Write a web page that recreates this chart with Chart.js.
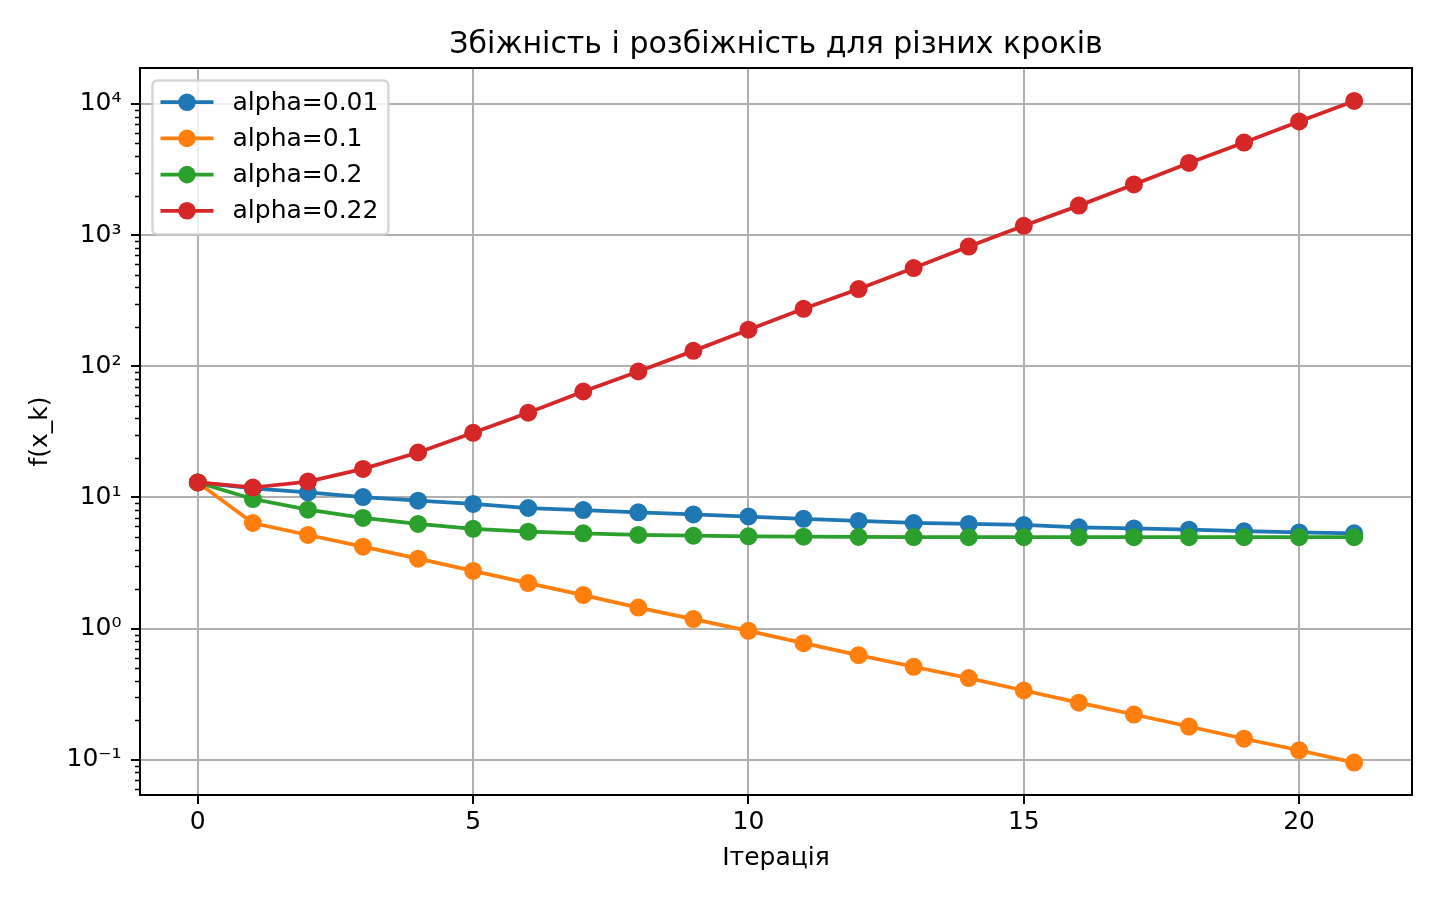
<!DOCTYPE html>
<html lang="uk">
<head>
<meta charset="utf-8">
<title>Збіжність і розбіжність для різних кроків</title>
<script src="https://cdn.jsdelivr.net/npm/chart.js@4.4.1/dist/chart.umd.min.js"></script>
<style>
  html, body { margin: 0; padding: 0; background: #ffffff; }
  #chart { display: block; }
</style>
</head>
<body>
<canvas id="chart" width="1440" height="900"></canvas>
<script>
// f(x_k) per iteration for each step size
const iterations = [0, 1, 2, 3, 4, 5, 6, 7, 8, 9, 10, 11, 12, 13, 14, 15, 16, 17, 18, 19, 20, 21];
const seriesLabels = ['alpha=0.01', 'alpha=0.1', 'alpha=0.2', 'alpha=0.22'];
const seriesColors = ['#1f77b4', '#ff7f0e', '#2ca02c', '#d62728'];

const alpha001 = [13.0, 11.7, 10.9, 10.05, 9.44, 8.91, 8.30, 8.01, 7.69, 7.41, 7.15, 6.87, 6.62, 6.38, 6.27, 6.16, 5.92, 5.80, 5.67, 5.52, 5.41, 5.32];
const alpha01 = [13.0, 6.38, 5.17, 4.21, 3.41, 2.75, 2.22, 1.80, 1.445, 1.18, 0.96, 0.774, 0.627, 0.511, 0.419, 0.337, 0.272, 0.221, 0.179, 0.1445, 0.118, 0.095];
const alpha02 = [13.0, 9.72, 8.06, 6.97, 6.27, 5.76, 5.48, 5.32, 5.17, 5.10, 5.05, 5.02, 5.00, 4.98, 4.97, 4.97, 4.97, 4.97, 4.97, 4.97, 4.97, 4.97];
const alpha022 = [13.0, 11.9, 13.2, 16.5, 22.0, 31.1, 44.2, 64.2, 91.2, 131, 190, 274, 388, 561, 817, 1178, 1678, 2432, 3548, 5080, 7362, 10550];

const xTickValues = [0, 5, 10, 15, 20];
const yTickValues = [0.1, 1, 10, 100, 1000, 10000];
const yTickLabels = ['10⁻¹', '10⁰', '10¹', '10²', '10³', '10⁴'];
const xLimits = [-1.05, 22.05];
const yLimits = [0.0538, 18800];

const allSeries = [alpha001, alpha01, alpha02, alpha022];

// minor log ticks 2..9 x 10^n inside the y range
const yMinorTicks = [];
[0.01, 0.1, 1, 10, 100, 1000, 10000].forEach(d => {
  for (let m = 2; m <= 9; m++) {
    const v = Number((d * m).toPrecision(6));
    if (v >= yLimits[0] && v <= yLimits[1]) yMinorTicks.push(v);
  }
});
const yAllTicks = yTickValues.concat(yMinorTicks).sort((a, b) => a - b);
const isMajorY = v => yTickValues.indexOf(v) >= 0;

Chart.defaults.font.family = '"DejaVu Sans", sans-serif';
Chart.defaults.color = '#000000';

// top/right spines, minor ticks and a matplotlib-like legend box
const framePlugin = {
  id: 'frame',
  afterDraw(chart) {
    const { ctx, chartArea: a } = chart;
    const yScale = chart.scales.y;
    ctx.save();

    ctx.strokeStyle = '#000000';
    ctx.lineWidth = 1.5;
    yScale.ticks.forEach(t => {
      if (isMajorY(t.value)) return;
      const py = Math.round(yScale.getPixelForValue(t.value)) + 0.5;
      ctx.beginPath();
      ctx.moveTo(a.left - 5, py);
      ctx.lineTo(a.left, py);
      ctx.stroke();
    });

    ctx.lineWidth = 2;
    ctx.strokeRect(a.left, a.top, a.right - a.left, a.bottom - a.top);

    // legend
    const sets = chart.data.datasets;
    ctx.font = '25px "DejaVu Sans"';
    const textW = Math.max(...sets.map(d => ctx.measureText(d.label).width));
    const x0 = a.left + 12.5;
    const y0 = a.top + 12.5;
    const rowH = 36.2;
    const w = 82 + textW + 8;
    const h = 21.7 + rowH * (sets.length - 1) + 23.8;
    ctx.beginPath();
    ctx.roundRect(x0, y0, w, h, 5);
    ctx.fillStyle = 'rgba(255,255,255,0.8)';
    ctx.fill();
    ctx.strokeStyle = 'rgba(204,204,204,0.8)';
    ctx.lineWidth = 2.5;
    ctx.stroke();

    sets.forEach((d, i) => {
      const cy = y0 + 21.7 + i * rowH;
      ctx.strokeStyle = d.borderColor;
      ctx.lineWidth = 3.75;
      ctx.beginPath();
      ctx.moveTo(x0 + 8, cy);
      ctx.lineTo(x0 + 61, cy);
      ctx.stroke();
      ctx.fillStyle = d.borderColor;
      ctx.beginPath();
      ctx.arc(x0 + 34.5, cy, 8.8, 0, Math.PI * 2);
      ctx.fill();
      ctx.fillStyle = '#000000';
      ctx.textBaseline = 'middle';
      ctx.textAlign = 'left';
      ctx.fillText(d.label, x0 + 80, cy + 1);
    });
    ctx.restore();
  }
};

const datasets = allSeries.map((series, i) => ({
  label: seriesLabels[i],
  data: iterations.map((x, j) => ({ x: x, y: series[j] })),
  borderColor: seriesColors[i],
  backgroundColor: seriesColors[i],
  pointBackgroundColor: seriesColors[i],
  pointBorderColor: seriesColors[i],
  borderWidth: 3.75,
  pointRadius: 8,
  pointBorderWidth: 2,
  tension: 0,
  fill: false,
  order: allSeries.length - i
}));

new Chart(document.getElementById('chart'), {
  type: 'line',
  data: { datasets: datasets },
  options: {
    responsive: false,
    animation: false,
    devicePixelRatio: 1,
    layout: { padding: { top: 0, right: 28, bottom: 0, left: 0 } },
    plugins: {
      legend: { display: false },
      tooltip: { enabled: false },
      title: {
        display: true,
        text: 'Збіжність і розбіжність для різних кроків',
        fullSize: false,
        color: '#000000',
        font: { size: 30, weight: 'normal' },
        padding: { top: 27, bottom: 5 }
      }
    },
    scales: {
      x: {
        type: 'linear',
        min: xLimits[0],
        max: xLimits[1],
        bounds: 'data',
        afterBuildTicks: s => { s.ticks = xTickValues.map(v => ({ value: v })); },
        afterFit: s => { s.height = 105; },
        ticks: {
          autoSkip: false,
          maxRotation: 0,
          padding: 3,
          color: '#000000',
          font: { size: 25 },
          callback: v => String(v)
        },
        grid: { color: '#b0b0b0', lineWidth: 2, tickLength: 9, tickWidth: 2, tickColor: '#000000' },
        border: { display: false },
        title: {
          display: true,
          text: 'Ітерація',
          color: '#000000',
          font: { size: 25 },
          padding: { top: 0, bottom: 27 }
        }
      },
      y: {
        type: 'logarithmic',
        min: yLimits[0],
        max: yLimits[1],
        bounds: 'data',
        afterBuildTicks: s => { s.ticks = yAllTicks.map(v => ({ value: v })); },
        afterFit: s => { s.width = 140; },
        ticks: {
          autoSkip: false,
          padding: 9.5,
          color: '#000000',
          font: { size: 25 },
          callback: v => {
            const i = yTickValues.indexOf(v);
            return i >= 0 ? yTickLabels[i] : '';
          }
        },
        grid: {
          color: c => (c.tick && isMajorY(c.tick.value)) ? '#b0b0b0' : 'rgba(0,0,0,0)',
          tickColor: c => (c.tick && isMajorY(c.tick.value)) ? '#000000' : 'rgba(0,0,0,0)',
          lineWidth: 2,
          tickLength: 9,
          tickWidth: 2
        },
        border: { display: false },
        title: {
          display: true,
          text: 'f(x_k)',
          color: '#000000',
          font: { size: 25 },
          padding: { top: 25, bottom: 0 }
        }
      }
    }
  },
  plugins: [framePlugin]
});
</script>
</body>
</html>
